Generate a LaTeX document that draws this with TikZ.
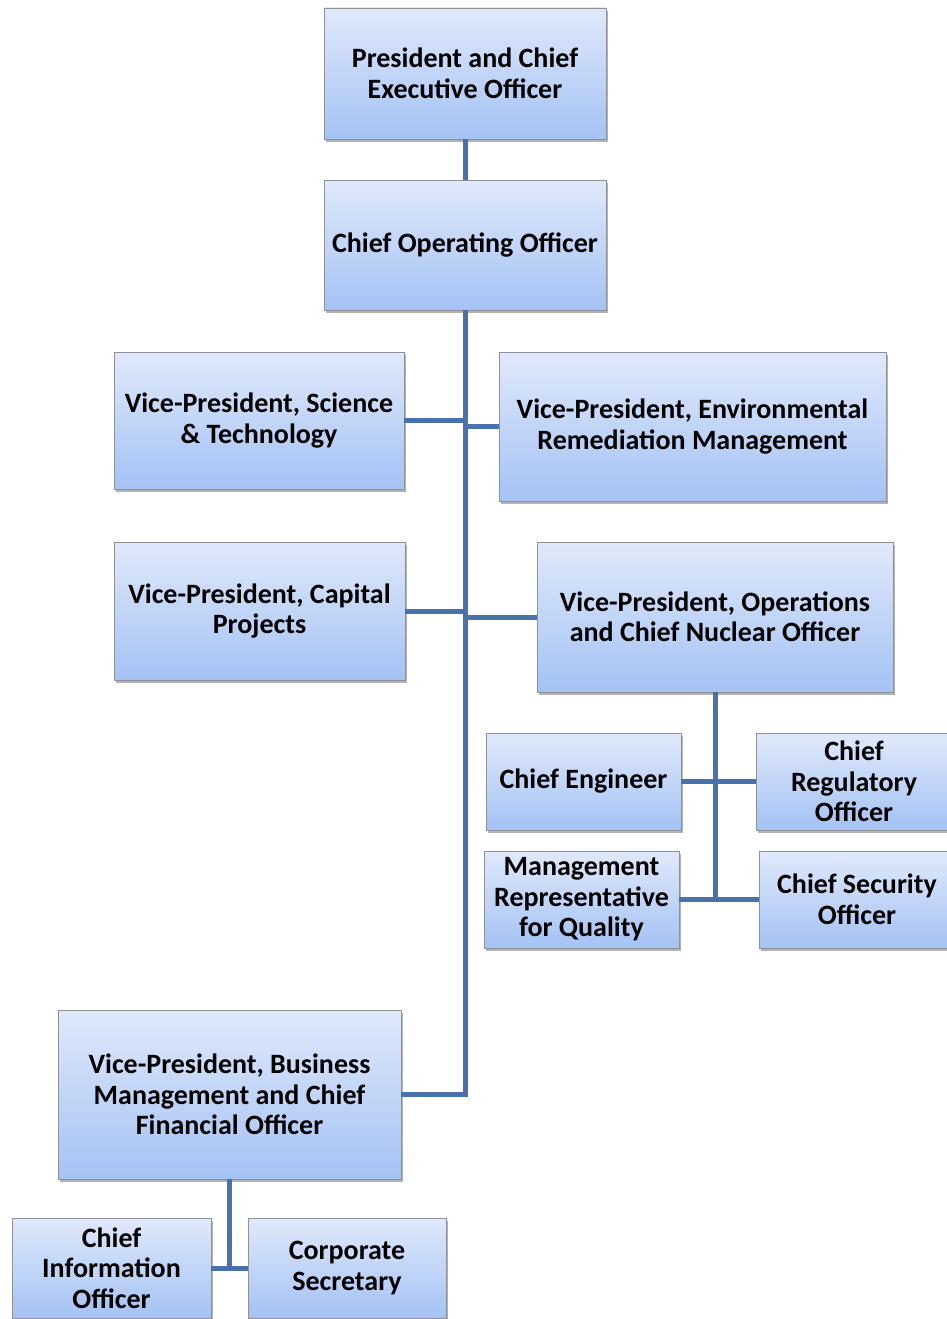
\documentclass[tikz,border=0pt]{standalone}
\usepackage{fontspec}
\setmainfont{Carlito}
\usetikzlibrary{shadows}
\definecolor{boxtop}{HTML}{E0E9FB}
\definecolor{boxbot}{HTML}{A4C2F4}
\definecolor{boxline}{HTML}{8E9298}
\definecolor{linkblue}{HTML}{4872A9}
\tikzset{
  box/.style={draw=boxline, line width=0.8pt, top color=boxtop, bottom color=boxbot,
    align=center, inner sep=2pt, outer sep=0pt,
    font=\fontsize{28}{30.5}\selectfont\bfseries,
    drop shadow={shadow xshift=2pt, shadow yshift=-3pt, fill=black, opacity=0.3}},
  link/.style={draw=linkblue, line width=5pt}
}
\begin{document}
\begin{tikzpicture}[x=1pt,y=-1pt]
\useasboundingbox (0,0) rectangle (947,1319);
\clip (0,0) rectangle (947,1319);
\fill[white] (0,0) rectangle (947,1319);
% boxes: centre, width, height
\node[box, minimum width=282pt, minimum height=131pt] (ceo) at (465,73.5) {President and Chief\\Executive Officer};
\node[box, minimum width=282pt, minimum height=130pt] (coo) at (465,245) {Chief Operating Officer};
\node[box, minimum width=290pt, minimum height=137pt] (sci) at (259,420.5) {Vice-President, Science\\\& Technology};
\node[box, minimum width=387pt, minimum height=149pt] (env) at (692.5,426.5) {Vice-President, Environmental\\Remediation Management};
\node[box, minimum width=291pt, minimum height=138pt] (cap) at (259.5,611) {Vice-President, Capital\\Projects};
\node[box, minimum width=356pt, minimum height=150pt] (ops) at (715,617) {Vice-President, Operations\\and Chief Nuclear Officer};
\node[box, minimum width=195pt, minimum height=97pt] (eng) at (583.5,781.5) {Chief Engineer};
\node[box, minimum width=196pt, minimum height=97pt] (reg) at (854,781.5) {Chief\\Regulatory\\Officer};
\node[box, minimum width=195pt, minimum height=97pt] (mgmt) at (581.5,899.5) {Management\\Representative\\for Quality};
\node[box, minimum width=196pt, minimum height=97pt] (sec) at (857,899.5) {Chief Security\\Officer};
\node[box, minimum width=343pt, minimum height=169pt] (bus) at (229.5,1094.5) {Vice-President, Business\\Management and Chief\\Financial Officer};
\node[box, minimum width=199pt, minimum height=100pt] (cio) at (111.5,1268) {Chief\\Information\\Officer};
\node[box, minimum width=198pt, minimum height=100pt] (corp) at (347,1268) {Corporate\\Secretary};
% connectors
\draw[link] (ceo.south) -- (coo.north);
\draw[link] (coo.south) -- (coo.south |- bus.east) -- (bus.east);
\draw[link] (sci.east) -- (sci.east -| coo.south);
\draw[link] (env.west) -- (env.west -| coo.south);
\draw[link] (cap.east) -- (cap.east -| coo.south);
\draw[link] (ops.west) -- (ops.west -| coo.south);
\draw[link] (ops.south) -- (ops.south |- mgmt.east);
\draw[link] (eng.east) -- (eng.east -| ops.south);
\draw[link] (reg.west) -- (reg.west -| ops.south);
\draw[link] (mgmt.east) -- (mgmt.east -| ops.south);
\draw[link] (sec.west) -- (sec.west -| ops.south);
\draw[link] (bus.south) -- (bus.south |- cio.east);
\draw[link] (cio.east) -- (corp.west);
\end{tikzpicture}
\end{document}
